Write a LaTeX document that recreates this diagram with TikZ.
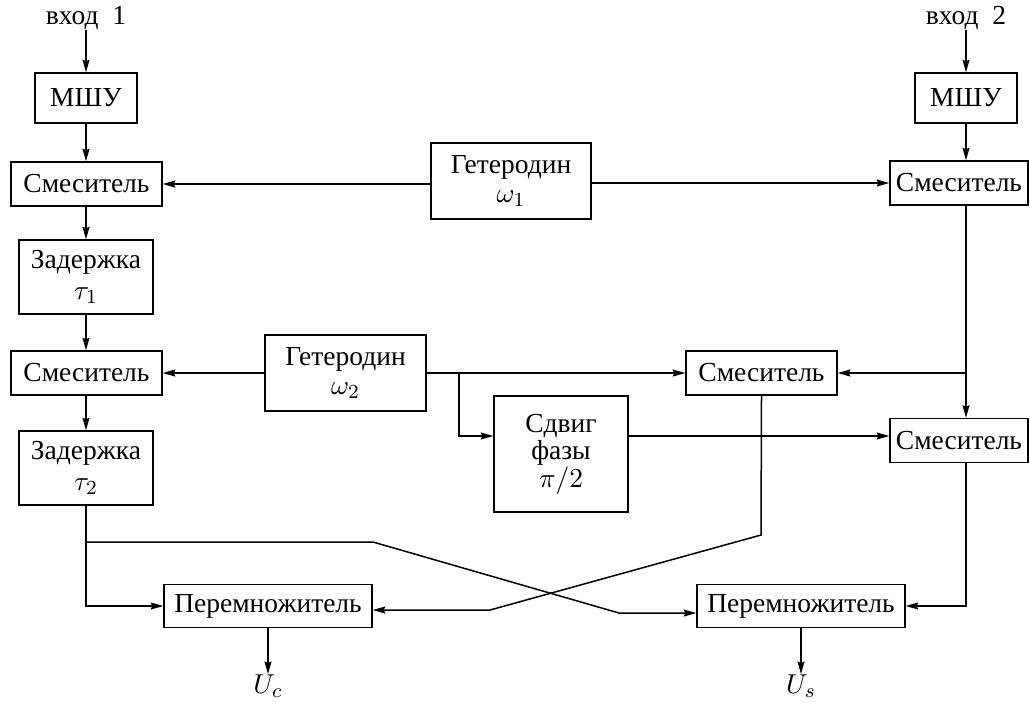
\documentclass[tikz,border=0pt]{standalone}
\usepackage{fontspec}
\setmainfont{Liberation Serif}
\usetikzlibrary{arrows.meta}
\begin{document}
\begin{tikzpicture}[x=0.4pt,y=-0.4pt,
  font=\fontsize{11}{12.5}\selectfont,
  box/.style={draw,line width=0.6pt,inner sep=0pt,align=center},
  lab/.style={inner sep=0pt},
  arr/.style={line width=0.6pt,-{Stealth[length=5pt,width=2.8pt,inset=0.6pt]}}]
\useasboundingbox (0,0) rectangle (1030,702);
% nodes
\node[lab] (inL) at (86,18) {вход~~1};
\node[lab] (inR) at (966,18) {вход~~2};
\node[box,minimum width=40.8pt,minimum height=20pt] (mshuL) at (86,98) {МШУ};
\node[box,minimum width=40.8pt,minimum height=20pt] (mshuR) at (966,98) {МШУ};
\node[box,minimum width=60.4pt,minimum height=17.6pt] (mixL1) at (86.5,184) {Смеситель};
\node[box,minimum width=64pt,minimum height=30.4pt] (het1) at (511,181) {Гетеродин\\[-1pt]$\omega_1$};
\node[box,minimum width=55.2pt,minimum height=17.6pt] (mixR1) at (959,183) {Смеситель};
\node[box,minimum width=53.6pt,minimum height=29.6pt] (delL1) at (86,277) {Задержка\\$\tau_1$};
\node[box,minimum width=60.4pt,minimum height=17.6pt] (mixL2) at (86.5,373) {Смеситель};
\node[box,minimum width=64.4pt,minimum height=30.4pt] (het2) at (345.5,373) {Гетеродин\\[-1pt]$\omega_2$};
\node[box,minimum width=60.4pt,minimum height=17.6pt] (mixM) at (761.5,373) {Смеситель};
\node[box,minimum width=53.6pt,minimum height=46.4pt] (shift) at (561,454) {Сдвиг\\[-1.5pt]фазы\\[-1.5pt]$\pi/2$};
\node[box,minimum width=55.2pt,minimum height=17.6pt] (mixR2) at (959,440.5) {Смеситель};
\node[box,minimum width=53.6pt,minimum height=29.6pt] (delL2) at (86,468) {Задержка\\$\tau_2$};
\node[box,minimum width=83.2pt,minimum height=17.2pt] (mulL) at (268,606) {Перемножитель};
\node[box,minimum width=83.2pt,minimum height=17.2pt] (mulR) at (801,606) {Перемножитель};
\node[lab,anchor=north] (Uc) at (268,674) {$U_c$};
\node[lab,anchor=north] (Us) at (801,674) {$U_s$};
% helper coordinates
\coordinate (colR) at (966,0);
\coordinate (b1) at (459,373);
\coordinate (b2) at (966,373);
\coordinate (b3) at (86,542);
\coordinate (k1) at (373,542);
\coordinate (k2) at (619,613);
\coordinate (k3) at (761,535);
\coordinate (k4) at (490,610);
% left column
\draw[arr] (inL.south) -- (mshuL.north);
\draw[arr] (mshuL.south) -- (mixL1.north -| mshuL);
\draw[arr] (mixL1.south -| delL1) -- (delL1.north);
\draw[arr] (delL1.south) -- (mixL2.north -| delL1);
\draw[arr] (mixL2.south -| delL2) -- (delL2.north);
\draw[arr] (delL2.south) |- (mulL.west);
% right column
\draw[arr] (inR.south) -- (mshuR.north);
\draw[arr] (mshuR.south) -- (mixR1.north -| mshuR);
\draw[arr] (mixR1.south -| colR) -- (mixR2.north -| colR);
\draw[arr] (b2) -- (mixM.east);
\draw[arr] (mixR2.south -| colR) |- (mulR.east);
% heterodyne 1
\draw[arr] (het1.west |- mixL1) -- (mixL1.east);
\draw[arr] (het1.east |- mixR1) -- (mixR1.west);
% heterodyne 2
\draw[arr] (het2.west) -- (mixL2.east);
\draw[arr] (het2.east) -- (mixM.west);
\draw[arr] (b1) |- ([yshift=7.2pt]shift.west);
\draw[arr] ([yshift=7.2pt]shift.east) -- ([yshift=7.2pt]shift.east -| mixR2.west);
% crossing lines
\draw[arr] (mixM.south) -- (k3) -- (k4) -- (k4 -| mulL.east);
\draw[arr] (b3) -- (k1) -- (k2) -- (k2 -| mulR.west);
% outputs
\draw[arr] (mulL.south) -- (Uc.north);
\draw[arr] (mulR.south) -- (Us.north);
\end{tikzpicture}
\end{document}
